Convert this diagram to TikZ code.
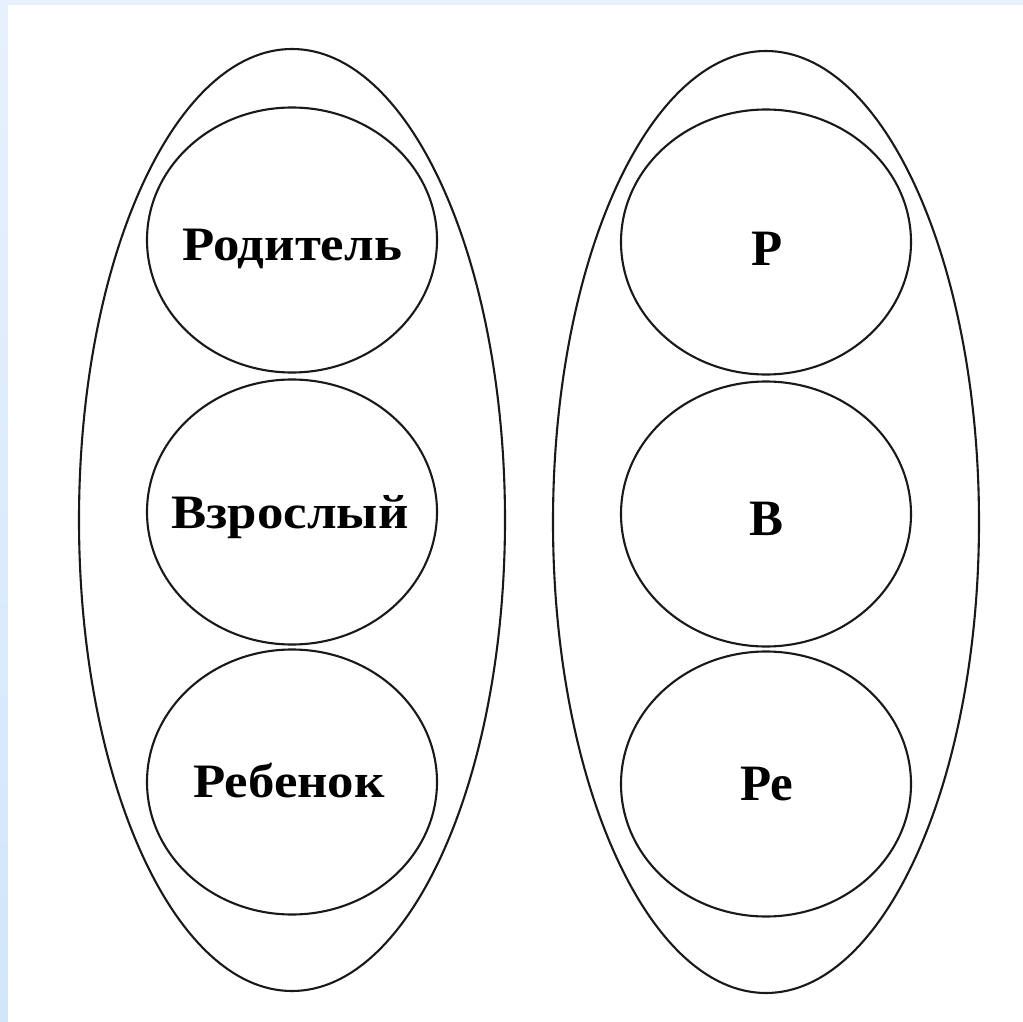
\documentclass[tikz,border=0pt]{standalone}
\usepackage{fontspec}
\setmainfont{Liberation Serif}
\usetikzlibrary{shapes.geometric}
\definecolor{frameblue}{HTML}{E6F1FC}
\definecolor{stripblue}{HTML}{D2E6FA}
\begin{document}
\begin{tikzpicture}[x=1pt,y=-1pt,
  outer/.style={draw=black!90,line width=2.1pt,ellipse,minimum width=426pt,minimum height=942pt,inner sep=0pt},
  inner/.style={draw=black!90,line width=2.1pt,ellipse,minimum width=290pt,minimum height=265pt,inner sep=0pt},
  lab/.style={anchor=base,inner sep=0pt,font=\fontsize{48}{54}\selectfont\bfseries},
  labr/.style={anchor=base,inner sep=0pt,font=\fontsize{51}{56}\selectfont\bfseries}]
\useasboundingbox (0,0) rectangle (1023,1022);
\fill[frameblue] (0,0) rectangle (1023,1022);
\shade[top color=frameblue,bottom color=stripblue] (0,0) rectangle (8,1022);
\fill[white] (8,5) rectangle (1023,1022);
\node[outer] (L) at (292,520) {};
\node[outer] (R) at (766,522) {};
\node[inner] (l1) at (292,240) {};
\node[inner] (l2) at (292,512) {};
\node[inner] (l3) at (292,782) {};
\node[inner] (r1) at (766,242) {};
\node[inner] (r2) at (766,514) {};
\node[inner] (r3) at (766,784) {};
\node[lab] (tl1) at (292,260) {\scalebox{1.1}[1]{Родитель}};
\node[lab] (tl2) at (290,528) {\scalebox{1.1}[1]{Взрослый}};
\node[lab] (tl3) at (289,797) {\scalebox{1.1}[1]{Ребенок}};
\node[labr] (tr1) at (767,265) {Р};
\node[labr] (tr2) at (767,535) {В};
\node[labr] (tr3) at (767,800) {Ре};
\end{tikzpicture}
\end{document}
